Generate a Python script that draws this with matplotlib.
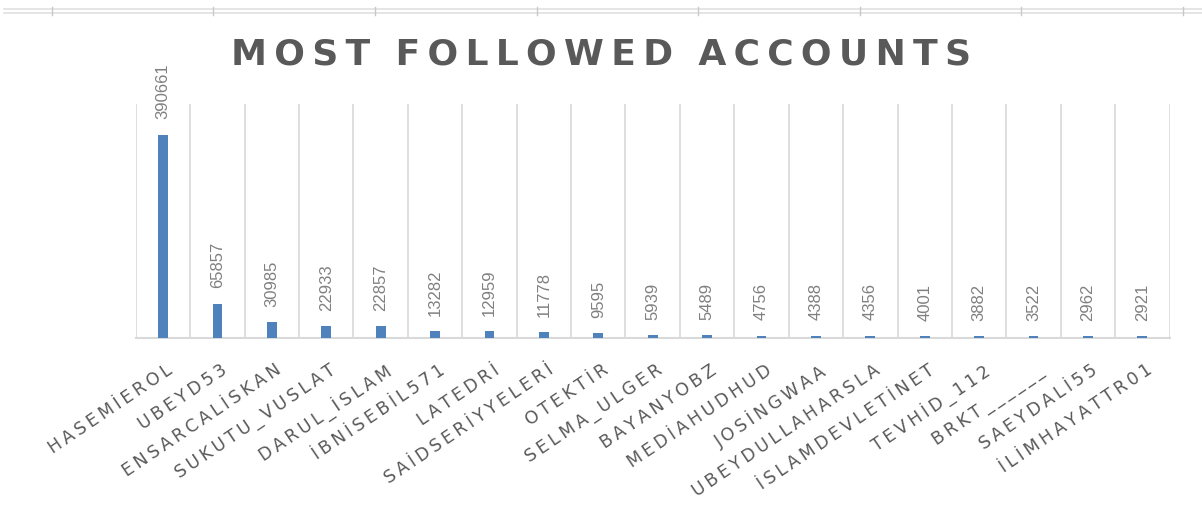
import matplotlib
matplotlib.use('Agg')
import matplotlib.pyplot as plt
import matplotlib.transforms as mtransforms
import numpy as np
from matplotlib.lines import Line2D

plt.rcParams['font.family'] = ['DejaVu Sans']

accounts = ['HASEMİEROL', 'UBEYD53', 'ENSARCALİSKAN', 'SUKUTU_VUSLAT', 'DARUL_İSLAM',
            'İBNİSEBİL571', 'LATEDRİ', 'SAİDSERİYYELERİ', 'OTEKTİR', 'SELMA_ULGER',
            'BAYANYOBZ', 'MEDİAHUDHUD', 'JOSİNGWAA', 'UBEYDULLAHARSLA', 'İSLAMDEVLETİNET',
            'TEVHİD_112', 'BRKT______', 'SAEYDALİ55', 'İLİMHAYATTR01']
followers = [390661, 65857, 30985, 22933, 22857, 13282, 12959, 11778, 9595, 5939,
             5489, 4756, 4388, 4356, 4001, 3882, 3522, 2962, 2921]
title = 'MOST FOLLOWED ACCOUNTS'

bar_color = '#4f81bd'
grid_color = '#d9d9d9'
text_color = '#595959'

fig = plt.figure(figsize=(12.02, 5.09), dpi=100)
ax = fig.add_axes([0.113, 0.336, 0.86, 0.46])

x = np.arange(len(accounts))
ax.bar(x, followers, width=0.18, color=bar_color, zorder=3)

for xi, v in zip(x, followers):
    ax.annotate(str(v), (xi, v), xytext=(0, 11), textcoords='offset points',
                rotation=90, ha='center', va='bottom', fontsize=12,
                color='#808080', family='Liberation Sans')

ax.set_xlim(-0.5, len(accounts) - 0.5)
ax.set_ylim(0, 450000)
ax.set_yticks([])

# category separators
ax.set_xticks(np.arange(len(accounts) + 1) - 0.5, minor=True)
ax.grid(which='minor', axis='x', color=grid_color, linewidth=1.2, zorder=0)
ax.tick_params(which='both', length=0)

ax.set_xticks(x)
spaced = ['\u2009'.join(a) for a in accounts]
ax.set_xticklabels(spaced, rotation=34, ha='right', rotation_mode='anchor',
                   fontsize=12.5, color=text_color, family='DejaVu Sans')
ax.tick_params(axis='x', pad=8)
shift = mtransforms.ScaledTranslation(3 / 100, -12 / 100, fig.dpi_scale_trans)
for lbl in ax.get_xticklabels():
    lbl.set_transform(lbl.get_transform() + shift)

for s in ['left', 'right', 'top']:
    ax.spines[s].set_visible(False)
ax.spines['bottom'].set_color(grid_color)
ax.spines['bottom'].set_linewidth(1.5)

title_txt = '  '.join('\u2009'.join(w) for w in title.split())
fig.text(0.5, 0.893, title_txt, ha='center', va='center', fontsize=26,
         fontweight='bold', color=text_color, family='DejaVu Sans')

# spreadsheet edge at the top
for yy in [0.982, 0.974]:
    fig.add_artist(Line2D([0.003, 1.0], [yy, yy], color='#e0e0e0', linewidth=1.2))
for tx in [52, 213, 375, 537, 698, 860, 1021, 1183]:
    fig.add_artist(Line2D([tx / 1202, tx / 1202], [0.970, 0.986], color='#c8c8c8', linewidth=1))

fig.savefig('out.png', dpi=100, facecolor='white')
